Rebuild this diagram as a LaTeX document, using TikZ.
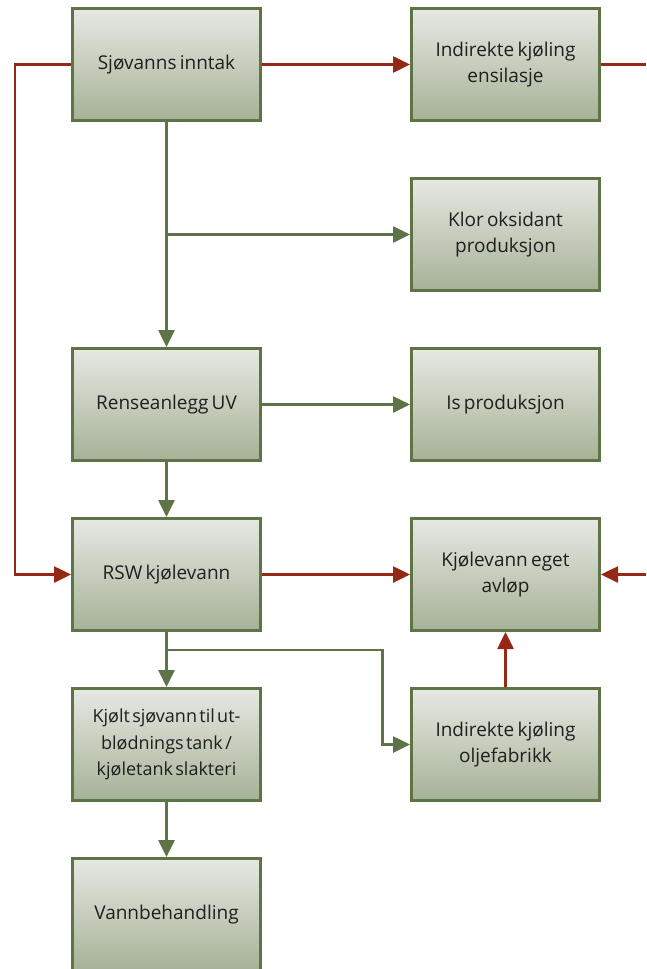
\documentclass[tikz,border=0pt]{standalone}
\usepackage{fontspec}
\setmainfont{Open Sans}
\usetikzlibrary{arrows.meta}
\definecolor{boxline}{RGB}{94,116,71}
\definecolor{flowgreen}{RGB}{94,116,71}
\definecolor{flowred}{RGB}{150,40,22}
\definecolor{filltop}{RGB}{230,232,226}
\definecolor{fillbot}{RGB}{166,178,151}
% box text: slightly narrow word spaces
\newcommand\procfont{\fontsize{19}{26}\selectfont\spaceskip 0.17em\relax}
\newcommand\procfonttight{\fontsize{18}{26.5}\selectfont\spaceskip 0.13em\relax}
\begin{document}
\begin{tikzpicture}[x=1pt,y=-1pt,
  proc/.style={draw=boxline, line width=3pt, minimum width=188pt, minimum height=112pt,
    top color=filltop, bottom color=fillbot, align=center, inner sep=2pt,
    font=\procfont, text=black!88},
  tight/.style={font=\procfonttight},
  gflow/.style={draw=flowgreen, line width=2.6pt, -{Triangle[length=17pt,width=16pt]}},
  rflow/.style={draw=flowred, line width=2.6pt, -{Triangle[length=17pt,width=16pt]}},
  rline/.style={draw=flowred, line width=2.6pt}]
\useasboundingbox (0,0) rectangle (646,969);
\begin{scope}
\clip (0,0) rectangle (646,969);
% process boxes
\node[proc] (inntak) at (166.5,64.5) {Sjøvanns inntak};
\node[proc] (ensil) at (505.5,64.5) {Indirekte kjøling\\ensilasje};
\node[proc] (klor) at (505.5,234.5) {Klor oksidant\\produksjon};
\node[proc] (rense) at (166.5,404.5) {Renseanlegg UV};
\node[proc] (is) at (505.5,404.5) {Is produksjon};
\node[proc] (rsw) at (166.5,574.5) {RSW kjølevann};
\node[proc] (avlop) at (505.5,574.5) {Kjølevann eget\\avløp};
\node[proc,tight] (kjolt) at (166.5,744.5) {Kjølt sjøvann til ut-\\blødnings tank /\\kjøletank slakteri};
\node[proc] (olje) at (505.5,744.5) {Indirekte kjøling\\oljefabrikk};
\node[proc] (vann) at (166.5,914.5) {Vannbehandling};
% helper points for bends and open ends
\coordinate (lcorner) at (15,64.5);
\coordinate (ensout) at (646,64.5);
\coordinate (avin) at (646,574.5);
\coordinate (split1) at (166.5,234.5);
\coordinate (split2) at (166.5,650);
\coordinate (bend2) at (382.5,650);
% red flows
\draw[rflow] (inntak.west) -- (lcorner) |- (rsw.west);
\draw[rflow] (inntak.east) -- (ensil.west);
\draw[rline] (ensil.east) -- (ensout);
\draw[rflow] (rsw.east) -- (avlop.west);
\draw[rflow] (avin) -- (avlop.east);
\draw[rflow] (olje.north) -- (avlop.south);
% green flows
\draw[gflow] (inntak.south) -- (rense.north);
\draw[gflow] (split1) -- (klor.west);
\draw[gflow] (rense.east) -- (is.west);
\draw[gflow] (rense.south) -- (rsw.north);
\draw[gflow] (rsw.south) -- (kjolt.north);
\draw[gflow] (split2) -- (bend2) |- (olje.west);
\draw[gflow] (kjolt.south) -- (vann.north);
\end{scope}
\end{tikzpicture}
\end{document}
